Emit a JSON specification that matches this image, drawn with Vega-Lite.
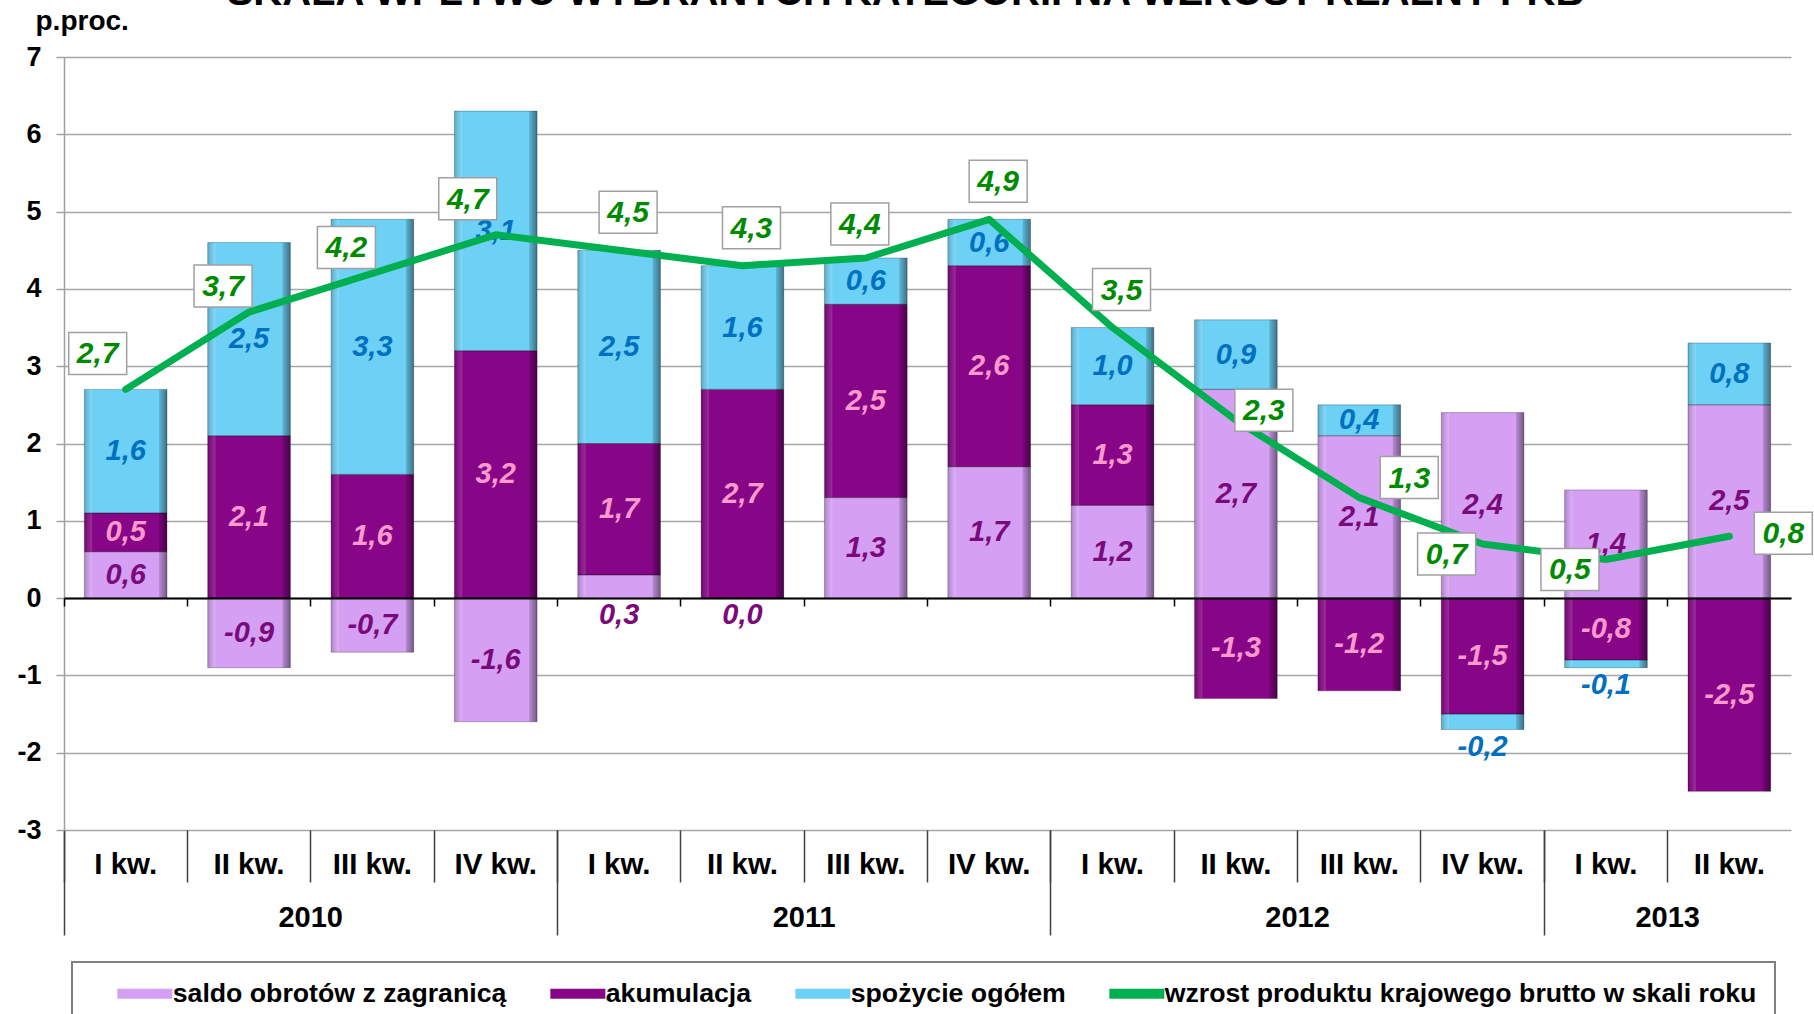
{
  "$schema": "https://vega.github.io/schema/vega-lite/v6.json",
  "width": 1727,
  "height": 773,
  "autosize": {"type": "none"},
  "padding": {"left": 64, "top": 57, "right": 23, "bottom": 184},
  "background": "white",
  "title": {"text": "SKALA WPŁYWU WYBRANYCH KATEGORII NA WZROST REALNY PKB", "font": "Liberation Sans", "fontSize": 40, "fontWeight": "bold", "color": "black", "anchor": "middle", "frame": "group", "dx": -22, "offset": -6},
  "config": {"view": {"stroke": null}, "font": "Liberation Sans"},
  "datasets": {
    "bars": [
      {"okres": "2010 I kw.", "kat": "saldo obrotów z zagranicą", "ord": 1, "v": 0.6},
      {"okres": "2010 II kw.", "kat": "saldo obrotów z zagranicą", "ord": 1, "v": -0.9},
      {"okres": "2010 III kw.", "kat": "saldo obrotów z zagranicą", "ord": 1, "v": -0.7},
      {"okres": "2010 IV kw.", "kat": "saldo obrotów z zagranicą", "ord": 1, "v": -1.6},
      {"okres": "2011 I kw.", "kat": "saldo obrotów z zagranicą", "ord": 1, "v": 0.3},
      {"okres": "2011 II kw.", "kat": "saldo obrotów z zagranicą", "ord": 1, "v": 0.0},
      {"okres": "2011 III kw.", "kat": "saldo obrotów z zagranicą", "ord": 1, "v": 1.3},
      {"okres": "2011 IV kw.", "kat": "saldo obrotów z zagranicą", "ord": 1, "v": 1.7},
      {"okres": "2012 I kw.", "kat": "saldo obrotów z zagranicą", "ord": 1, "v": 1.2},
      {"okres": "2012 II kw.", "kat": "saldo obrotów z zagranicą", "ord": 1, "v": 2.7},
      {"okres": "2012 III kw.", "kat": "saldo obrotów z zagranicą", "ord": 1, "v": 2.1},
      {"okres": "2012 IV kw.", "kat": "saldo obrotów z zagranicą", "ord": 1, "v": 2.4},
      {"okres": "2013 I kw.", "kat": "saldo obrotów z zagranicą", "ord": 1, "v": 1.4},
      {"okres": "2013 II kw.", "kat": "saldo obrotów z zagranicą", "ord": 1, "v": 2.5},
      {"okres": "2010 I kw.", "kat": "akumulacja", "ord": 2, "v": 0.5},
      {"okres": "2010 II kw.", "kat": "akumulacja", "ord": 2, "v": 2.1},
      {"okres": "2010 III kw.", "kat": "akumulacja", "ord": 2, "v": 1.6},
      {"okres": "2010 IV kw.", "kat": "akumulacja", "ord": 2, "v": 3.2},
      {"okres": "2011 I kw.", "kat": "akumulacja", "ord": 2, "v": 1.7},
      {"okres": "2011 II kw.", "kat": "akumulacja", "ord": 2, "v": 2.7},
      {"okres": "2011 III kw.", "kat": "akumulacja", "ord": 2, "v": 2.5},
      {"okres": "2011 IV kw.", "kat": "akumulacja", "ord": 2, "v": 2.6},
      {"okres": "2012 I kw.", "kat": "akumulacja", "ord": 2, "v": 1.3},
      {"okres": "2012 II kw.", "kat": "akumulacja", "ord": 2, "v": -1.3},
      {"okres": "2012 III kw.", "kat": "akumulacja", "ord": 2, "v": -1.2},
      {"okres": "2012 IV kw.", "kat": "akumulacja", "ord": 2, "v": -1.5},
      {"okres": "2013 I kw.", "kat": "akumulacja", "ord": 2, "v": -0.8},
      {"okres": "2013 II kw.", "kat": "akumulacja", "ord": 2, "v": -2.5},
      {"okres": "2010 I kw.", "kat": "spożycie ogółem", "ord": 3, "v": 1.6},
      {"okres": "2010 II kw.", "kat": "spożycie ogółem", "ord": 3, "v": 2.5},
      {"okres": "2010 III kw.", "kat": "spożycie ogółem", "ord": 3, "v": 3.3},
      {"okres": "2010 IV kw.", "kat": "spożycie ogółem", "ord": 3, "v": 3.1},
      {"okres": "2011 I kw.", "kat": "spożycie ogółem", "ord": 3, "v": 2.5},
      {"okres": "2011 II kw.", "kat": "spożycie ogółem", "ord": 3, "v": 1.6},
      {"okres": "2011 III kw.", "kat": "spożycie ogółem", "ord": 3, "v": 0.6},
      {"okres": "2011 IV kw.", "kat": "spożycie ogółem", "ord": 3, "v": 0.6},
      {"okres": "2012 I kw.", "kat": "spożycie ogółem", "ord": 3, "v": 1.0},
      {"okres": "2012 II kw.", "kat": "spożycie ogółem", "ord": 3, "v": 0.9},
      {"okres": "2012 III kw.", "kat": "spożycie ogółem", "ord": 3, "v": 0.4},
      {"okres": "2012 IV kw.", "kat": "spożycie ogółem", "ord": 3, "v": -0.2},
      {"okres": "2013 I kw.", "kat": "spożycie ogółem", "ord": 3, "v": -0.1},
      {"okres": "2013 II kw.", "kat": "spożycie ogółem", "ord": 3, "v": 0.8}
    ],
    "gdp": [
      {"okres": "2010 I kw.", "kat": "wzrost produktu krajowego brutto w skali roku", "gdp": 2.7},
      {"okres": "2010 II kw.", "kat": "wzrost produktu krajowego brutto w skali roku", "gdp": 3.7},
      {"okres": "2010 III kw.", "kat": "wzrost produktu krajowego brutto w skali roku", "gdp": 4.2},
      {"okres": "2010 IV kw.", "kat": "wzrost produktu krajowego brutto w skali roku", "gdp": 4.7},
      {"okres": "2011 I kw.", "kat": "wzrost produktu krajowego brutto w skali roku", "gdp": 4.5},
      {"okres": "2011 II kw.", "kat": "wzrost produktu krajowego brutto w skali roku", "gdp": 4.3},
      {"okres": "2011 III kw.", "kat": "wzrost produktu krajowego brutto w skali roku", "gdp": 4.4},
      {"okres": "2011 IV kw.", "kat": "wzrost produktu krajowego brutto w skali roku", "gdp": 4.9},
      {"okres": "2012 I kw.", "kat": "wzrost produktu krajowego brutto w skali roku", "gdp": 3.5},
      {"okres": "2012 II kw.", "kat": "wzrost produktu krajowego brutto w skali roku", "gdp": 2.3},
      {"okres": "2012 III kw.", "kat": "wzrost produktu krajowego brutto w skali roku", "gdp": 1.3},
      {"okres": "2012 IV kw.", "kat": "wzrost produktu krajowego brutto w skali roku", "gdp": 0.7},
      {"okres": "2013 I kw.", "kat": "wzrost produktu krajowego brutto w skali roku", "gdp": 0.5},
      {"okres": "2013 II kw.", "kat": "wzrost produktu krajowego brutto w skali roku", "gdp": 0.8}
    ]
  },
  "resolve": {"axis": {"x": "independent", "y": "independent"}},
  "layer": [
    {
      "data": {"name": "bars"},
      "transform": [{"stack": "v", "groupby": ["okres"], "sort": [{"field": "ord", "order": "ascending"}], "as": ["v0", "v1"]}],
      "mark": {"type": "bar", "width": {"band": 0.67}},
      "encoding": {
        "x": {"field": "okres", "type": "nominal", "sort": null,
          "scale": {"domain": ["2010 I kw.","2010 II kw.","2010 III kw.","2010 IV kw.","2011 I kw.","2011 II kw.","2011 III kw.","2011 IV kw.","2012 I kw.","2012 II kw.","2012 III kw.","2012 IV kw.","2013 I kw.","2013 II kw."], "paddingInner": 0, "paddingOuter": 0},
          "axis": {"orient": "bottom", "offset": -232, "bandPosition": 0, "title": null, "labels": false, "grid": false, "ticks": true, "tickSize": 8, "tickColor": "black", "tickWidth": 1.5, "domain": true, "domainColor": "black", "domainWidth": 2, "zindex": 1}},
        "y": {"field": "v0", "type": "quantitative",
          "scale": {"domain": [-3, 7], "nice": false, "zero": false},
          "axis": {"orient": "left", "title": "p.proc.", "values": [-3,-2,-1,0,1,2,3,4,5,6,7], "labelExpr": "'' + datum.value", "labelFont": "Liberation Sans", "labelFontSize": 27, "labelFontWeight": "bold", "labelColor": "black", "labelPadding": 15, "tickSize": 8, "tickColor": "#A0A0A0", "tickWidth": 1.5, "domainColor": "#A0A0A0", "domainWidth": 1.5, "grid": true, "gridColor": "#A6A6A6", "gridWidth": 1.5, "titleAngle": 0, "titleAlign": "left", "titleBaseline": "middle", "titleX": -29, "titleY": -36, "titleFont": "Liberation Sans", "titleFontSize": 28, "titleFontWeight": "bold", "titleColor": "black"}},
        "y2": {"field": "v1"},
        "color": {"field": "kat", "type": "nominal",
          "scale": {"domain": ["saldo obrotów z zagranicą", "akumulacja", "spożycie ogółem", "wzrost produktu krajowego brutto w skali roku"], "range": ["#D5A0F4", "#870587", "#6DD0F5", "#00B050"]},
          "legend": {"orient": "none", "legendX": 8, "legendY": 905, "direction": "horizontal", "title": null,
            "symbolType": "M2.8,-1L13.8,-1L13.8,1L2.8,1Z", "symbolSize": 100, "symbolStrokeWidth": 0,
            "labelFont": "Liberation Sans", "labelFontSize": 26.7, "labelFontWeight": "bold", "labelColor": "black", "labelLimit": 1000, "labelOffset": 56,
            "columnPadding": 16, "padding": 18, "strokeColor": "#808080", "fillColor": "white",
            "encode": {"symbols": {"update": {"fill": {"scale": "color", "field": "value"}, "opacity": {"value": 1}}}, "legend": {"update": {"strokeWidth": {"value": 2}}}}}}
      }
    },
    {
      "data": {"name": "bars"},
      "transform": [{"stack": "v", "groupby": ["okres"], "sort": [{"field": "ord", "order": "ascending"}], "as": ["v0", "v1"]}],
      "mark": {"type": "bar", "width": {"band": 0.67}, "stroke": "rgba(0,0,0,0.25)", "strokeWidth": 1,
        "fill": {"gradient": "linear", "x1": 0, "x2": 1, "y1": 0, "y2": 0, "stops": [
          {"offset": 0, "color": "rgba(0,0,0,0.18)"},
          {"offset": 0.09, "color": "rgba(255,255,255,0.15)"},
          {"offset": 0.1, "color": "rgba(255,255,255,0)"},
          {"offset": 0.9, "color": "rgba(0,0,0,0)"},
          {"offset": 0.91, "color": "rgba(0,0,0,0.15)"},
          {"offset": 1, "color": "rgba(0,0,0,0.45)"}]}},
      "encoding": {
        "x": {"field": "okres", "type": "nominal", "sort": null,
          "axis": {"orient": "bottom", "bandPosition": 0, "title": null, "domain": false, "grid": false, "ticks": true, "tickSize": 52, "tickColor": "#404040", "tickWidth": 1.5,
            "labelExpr": "slice(datum.value, 5)", "labelAngle": 0, "labelBaseline": "middle", "labelPadding": -18, "labelFont": "Liberation Sans", "labelFontSize": 29.5, "labelFontWeight": "bold", "labelColor": "black", "labelOverlap": false}},
        "y": {"field": "v0", "type": "quantitative", "axis": null},
        "y2": {"field": "v1"}
      }
    },
    {
      "data": {"name": "bars"},
      "transform": [
        {"stack": "v", "groupby": ["okres"], "sort": [{"field": "ord", "order": "ascending"}], "as": ["v0", "v1"]},
        {"calculate": "abs(datum.v) < 0.35 ? min(datum.v0, datum.v1) - 0.22 : (datum.v0 + datum.v1) / 2", "as": "ly"},
        {"calculate": "(datum.v < 0 ? '-' : '') + replace(format(abs(datum.v), '.1f'), '.', ',')", "as": "lab"}
      ],
      "mark": {"type": "text", "font": "Liberation Sans", "fontSize": 29, "fontWeight": "bold", "fontStyle": "italic", "baseline": "middle", "align": "center"},
      "encoding": {
        "x": {"field": "okres", "type": "nominal", "sort": null,
          "axis": {"orient": "bottom", "values": ["2010 I kw.", "2011 I kw.", "2012 I kw.", "2013 I kw."], "bandPosition": 0, "title": null, "domain": false, "grid": false, "labels": false, "ticks": true, "tickSize": 105, "tickColor": "#404040", "tickWidth": 1.5}},
        "y": {"field": "ly", "type": "quantitative", "axis": null},
        "text": {"field": "lab"},
        "fill": {"field": "kat", "type": "nominal", "scale": {"domain": ["saldo obrotów z zagranicą", "akumulacja", "spożycie ogółem"], "range": ["#7A0A7A", "#FF9ACD", "#0070C0"]}, "legend": null}
      }
    },
    {
      "data": {"name": "gdp"},
      "mark": {"type": "line", "strokeWidth": 7, "strokeCap": "round", "strokeJoin": "round"},
      "encoding": {
        "x": {"field": "okres", "type": "nominal", "sort": null,
          "axis": {"orient": "bottom", "values": ["2010 III kw.", "2011 III kw.", "2012 III kw.", "2013 II kw."], "title": null, "domain": false, "grid": false, "ticks": false, "tickSize": 0,
            "labelExpr": "slice(datum.value, 0, 4)", "labelOffset": -61.68, "labelAngle": 0, "labelBaseline": "middle", "labelPadding": 87, "labelFont": "Liberation Sans", "labelFontSize": 29, "labelFontWeight": "bold", "labelColor": "black", "labelOverlap": false}},
        "y": {"field": "gdp", "type": "quantitative", "axis": null},
        "color": {"field": "kat", "type": "nominal",
          "scale": {"domain": ["saldo obrotów z zagranicą", "akumulacja", "spożycie ogółem", "wzrost produktu krajowego brutto w skali roku"], "range": ["#D5A0F4", "#870587", "#6DD0F5", "#00B050"]}}
      }
    },
    {
      "data": {"name": "gdp"},
      "transform": [
        {"filter": {"field": "okres", "oneOf": ["2010 I kw.", "2010 IV kw."]}},
        {"calculate": "replace(format(datum.gdp, '.1f'), '.', ',')", "as": "lab"}
      ],
      "layer": [
        {"mark": {"type": "point", "shape": "M-1,-0.724L1,-0.724L1,0.724L-1,0.724Z", "size": 3364, "filled": true, "fill": "white", "stroke": "#A0A0A0", "strokeWidth": 1.5, "opacity": 1, "xOffset": -28, "yOffset": -36},
         "encoding": {"x": {"field": "okres", "type": "nominal", "sort": null,
            "axis": {"orient": "bottom", "values": ["2013 II kw."], "bandPosition": 1, "title": null, "domain": false, "grid": false, "labels": false, "ticks": true, "tickSize": 105, "tickColor": "#404040", "tickWidth": 1.5}},
          "y": {"field": "gdp", "type": "quantitative", "axis": null}}},
        {"mark": {"type": "text", "font": "Liberation Sans", "fontSize": 30, "fontWeight": "bold", "fontStyle": "italic", "color": "#008A00", "baseline": "middle", "align": "center", "xOffset": -28, "yOffset": -35},
         "encoding": {"x": {"field": "okres", "type": "nominal", "sort": null, "axis": null}, "y": {"field": "gdp", "type": "quantitative", "axis": null}, "text": {"field": "lab"}}}
      ]
    },
    {
      "data": {"name": "gdp"},
      "transform": [
        {"filter": {"field": "okres", "oneOf": ["2010 II kw.", "2010 III kw."]}},
        {"calculate": "replace(format(datum.gdp, '.1f'), '.', ',')", "as": "lab"}
      ],
      "layer": [
        {"mark": {"type": "point", "shape": "M-1,-0.724L1,-0.724L1,0.724L-1,0.724Z", "size": 3364, "filled": true, "fill": "white", "stroke": "#A0A0A0", "strokeWidth": 1.5, "opacity": 1, "xOffset": -26, "yOffset": -26},
         "encoding": {"x": {"field": "okres", "type": "nominal", "sort": null,
            "axis": {"orient": "bottom", "offset": -232, "values": ["2013 II kw."], "bandPosition": 1, "title": null, "domain": false, "grid": false, "labels": false, "ticks": true, "tickSize": 8, "tickColor": "black", "tickWidth": 1.5, "zindex": 1}},
          "y": {"field": "gdp", "type": "quantitative", "axis": null}}},
        {"mark": {"type": "text", "font": "Liberation Sans", "fontSize": 30, "fontWeight": "bold", "fontStyle": "italic", "color": "#008A00", "baseline": "middle", "align": "center", "xOffset": -26, "yOffset": -25},
         "encoding": {"x": {"field": "okres", "type": "nominal", "sort": null, "axis": null}, "y": {"field": "gdp", "type": "quantitative", "axis": null}, "text": {"field": "lab"}}}
      ]
    },
    {
      "data": {"name": "gdp"},
      "transform": [
        {"filter": {"field": "okres", "oneOf": ["2011 I kw.", "2011 II kw.", "2011 IV kw.", "2012 I kw."]}},
        {"calculate": "replace(format(datum.gdp, '.1f'), '.', ',')", "as": "lab"}
      ],
      "layer": [
        {"mark": {"type": "point", "shape": "M-1,-0.724L1,-0.724L1,0.724L-1,0.724Z", "size": 3364, "filled": true, "fill": "white", "stroke": "#A0A0A0", "strokeWidth": 1.5, "opacity": 1, "xOffset": 9, "yOffset": -38},
         "encoding": {"x": {"field": "okres", "type": "nominal", "sort": null, "axis": null}, "y": {"field": "gdp", "type": "quantitative", "axis": null}}},
        {"mark": {"type": "text", "font": "Liberation Sans", "fontSize": 30, "fontWeight": "bold", "fontStyle": "italic", "color": "#008A00", "baseline": "middle", "align": "center", "xOffset": 9, "yOffset": -37},
         "encoding": {"x": {"field": "okres", "type": "nominal", "sort": null, "axis": null}, "y": {"field": "gdp", "type": "quantitative", "axis": null}, "text": {"field": "lab"}}}
      ]
    },
    {
      "data": {"name": "gdp"},
      "transform": [
        {"filter": {"field": "okres", "oneOf": ["2011 III kw."]}},
        {"calculate": "replace(format(datum.gdp, '.1f'), '.', ',')", "as": "lab"}
      ],
      "layer": [
        {"mark": {"type": "point", "shape": "M-1,-0.724L1,-0.724L1,0.724L-1,0.724Z", "size": 3364, "filled": true, "fill": "white", "stroke": "#A0A0A0", "strokeWidth": 1.5, "opacity": 1, "xOffset": -6, "yOffset": -34},
         "encoding": {"x": {"field": "okres", "type": "nominal", "sort": null, "axis": null}, "y": {"field": "gdp", "type": "quantitative", "axis": null}}},
        {"mark": {"type": "text", "font": "Liberation Sans", "fontSize": 30, "fontWeight": "bold", "fontStyle": "italic", "color": "#008A00", "baseline": "middle", "align": "center", "xOffset": -6, "yOffset": -33},
         "encoding": {"x": {"field": "okres", "type": "nominal", "sort": null, "axis": null}, "y": {"field": "gdp", "type": "quantitative", "axis": null}, "text": {"field": "lab"}}}
      ]
    },
    {
      "data": {"name": "gdp"},
      "transform": [
        {"filter": {"field": "okres", "oneOf": ["2012 II kw."]}},
        {"calculate": "replace(format(datum.gdp, '.1f'), '.', ',')", "as": "lab"}
      ],
      "layer": [
        {"mark": {"type": "point", "shape": "M-1,-0.724L1,-0.724L1,0.724L-1,0.724Z", "size": 3364, "filled": true, "fill": "white", "stroke": "#A0A0A0", "strokeWidth": 1.5, "opacity": 1, "xOffset": 28, "yOffset": -10},
         "encoding": {"x": {"field": "okres", "type": "nominal", "sort": null, "axis": null}, "y": {"field": "gdp", "type": "quantitative", "axis": null}}},
        {"mark": {"type": "text", "font": "Liberation Sans", "fontSize": 30, "fontWeight": "bold", "fontStyle": "italic", "color": "#008A00", "baseline": "middle", "align": "center", "xOffset": 28, "yOffset": -9},
         "encoding": {"x": {"field": "okres", "type": "nominal", "sort": null, "axis": null}, "y": {"field": "gdp", "type": "quantitative", "axis": null}, "text": {"field": "lab"}}}
      ]
    },
    {
      "data": {"name": "gdp"},
      "transform": [
        {"filter": {"field": "okres", "oneOf": ["2012 III kw."]}},
        {"calculate": "replace(format(datum.gdp, '.1f'), '.', ',')", "as": "lab"}
      ],
      "layer": [
        {"mark": {"type": "point", "shape": "M-1,-0.724L1,-0.724L1,0.724L-1,0.724Z", "size": 3364, "filled": true, "fill": "white", "stroke": "#A0A0A0", "strokeWidth": 1.5, "opacity": 1, "xOffset": 50, "yOffset": -20},
         "encoding": {"x": {"field": "okres", "type": "nominal", "sort": null, "axis": null}, "y": {"field": "gdp", "type": "quantitative", "axis": null}}},
        {"mark": {"type": "text", "font": "Liberation Sans", "fontSize": 30, "fontWeight": "bold", "fontStyle": "italic", "color": "#008A00", "baseline": "middle", "align": "center", "xOffset": 50, "yOffset": -19},
         "encoding": {"x": {"field": "okres", "type": "nominal", "sort": null, "axis": null}, "y": {"field": "gdp", "type": "quantitative", "axis": null}, "text": {"field": "lab"}}}
      ]
    },
    {
      "data": {"name": "gdp"},
      "transform": [
        {"filter": {"field": "okres", "oneOf": ["2012 IV kw.", "2013 I kw."]}},
        {"calculate": "replace(format(datum.gdp, '.1f'), '.', ',')", "as": "lab"}
      ],
      "layer": [
        {"mark": {"type": "point", "shape": "M-1,-0.724L1,-0.724L1,0.724L-1,0.724Z", "size": 3364, "filled": true, "fill": "white", "stroke": "#A0A0A0", "strokeWidth": 1.5, "opacity": 1, "xOffset": -36, "yOffset": 10},
         "encoding": {"x": {"field": "okres", "type": "nominal", "sort": null, "axis": null}, "y": {"field": "gdp", "type": "quantitative", "axis": null}}},
        {"mark": {"type": "text", "font": "Liberation Sans", "fontSize": 30, "fontWeight": "bold", "fontStyle": "italic", "color": "#008A00", "baseline": "middle", "align": "center", "xOffset": -36, "yOffset": 11},
         "encoding": {"x": {"field": "okres", "type": "nominal", "sort": null, "axis": null}, "y": {"field": "gdp", "type": "quantitative", "axis": null}, "text": {"field": "lab"}}}
      ]
    },
    {
      "data": {"name": "gdp"},
      "transform": [
        {"filter": {"field": "okres", "oneOf": ["2013 II kw."]}},
        {"calculate": "replace(format(datum.gdp, '.1f'), '.', ',')", "as": "lab"}
      ],
      "layer": [
        {"mark": {"type": "point", "shape": "M-1,-0.724L1,-0.724L1,0.724L-1,0.724Z", "size": 3364, "filled": true, "fill": "white", "stroke": "#A0A0A0", "strokeWidth": 1.5, "opacity": 1, "xOffset": 54, "yOffset": -3},
         "encoding": {"x": {"field": "okres", "type": "nominal", "sort": null, "axis": null}, "y": {"field": "gdp", "type": "quantitative", "axis": null}}},
        {"mark": {"type": "text", "font": "Liberation Sans", "fontSize": 30, "fontWeight": "bold", "fontStyle": "italic", "color": "#008A00", "baseline": "middle", "align": "center", "xOffset": 54, "yOffset": -2},
         "encoding": {"x": {"field": "okres", "type": "nominal", "sort": null, "axis": null}, "y": {"field": "gdp", "type": "quantitative", "axis": null}, "text": {"field": "lab"}}}
      ]
    }
  ]
}
